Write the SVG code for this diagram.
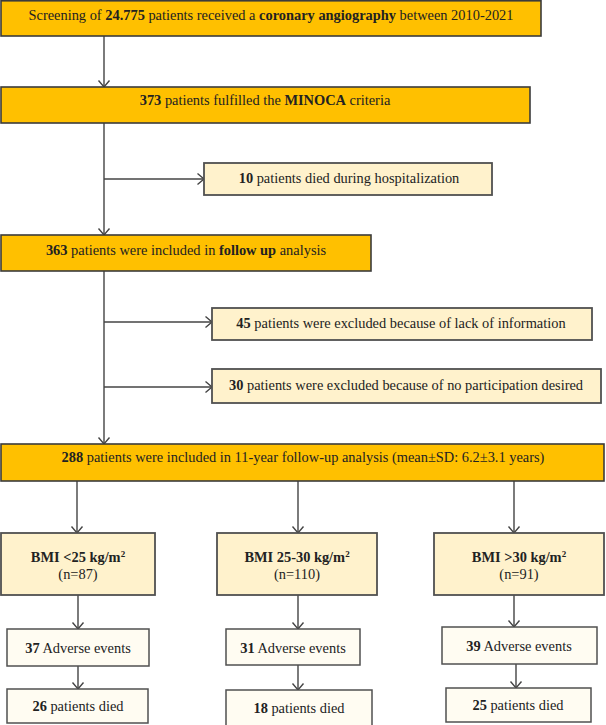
<svg xmlns="http://www.w3.org/2000/svg" width="606" height="725" viewBox="0 0 606 725">
<defs>
<marker id="arr" markerUnits="userSpaceOnUse" markerWidth="10" markerHeight="14" refX="6.5" refY="5.5" orient="auto" overflow="visible">
<path d="M0,0 L6.5,5.5 L0,11" fill="none" stroke="#444" stroke-width="1.4"/>
</marker>
</defs>
<style>
text{font-family:"Liberation Serif","Times New Roman",serif;font-size:14.4px;fill:#222;text-anchor:middle}
.b{font-weight:bold}
.main{fill:#FFC000;stroke:#3b3b3b;stroke-width:1.6}
.cream{fill:#FFF2CC;stroke:#505050;stroke-width:1.8}
.light{fill:#FFFCF2;stroke:#505050;stroke-width:1.5}
.con path{fill:none;stroke:#444;stroke-width:1.4}
</style>
<g class="con" id="connectors">
<path d="M104,36 V87" marker-end="url(#arr)"/>
<path d="M104,123 V235" marker-end="url(#arr)"/>
<path d="M104,179 H204" marker-end="url(#arr)"/>
<path d="M104,271 V444" marker-end="url(#arr)"/>
<path d="M104,322 H212" marker-end="url(#arr)"/>
<path d="M104,387 H212" marker-end="url(#arr)"/>
<path d="M77,481 V533" marker-end="url(#arr)"/>
<path d="M298,481 V533" marker-end="url(#arr)"/>
<path d="M514,481 V533" marker-end="url(#arr)"/>
<path d="M78,595 V629" marker-end="url(#arr)"/>
<path d="M298,595 V629" marker-end="url(#arr)"/>
<path d="M514,595 V627" marker-end="url(#arr)"/>
<path d="M78,666 V689" marker-end="url(#arr)"/>
<path d="M298,665 V690" marker-end="url(#arr)"/>
<path d="M516,664 V688" marker-end="url(#arr)"/>
</g>
<g id="screening">
<rect class="main" x="1" y="0.8" width="540" height="35.2"/>
<text x="271" y="19.5">Screening of <tspan class="b">24.775</tspan> patients received a <tspan class="b">coronary angiography</tspan> between 2010-2021</text>
</g>
<g id="minoca">
<rect class="main" x="1" y="87" width="529" height="36"/>
<text x="265" y="104.5"><tspan class="b">373</tspan> patients fulfilled the <tspan class="b">MINOCA</tspan> criteria</text>
</g>
<g id="died-hosp">
<rect class="cream" x="204" y="163" width="288" height="32"/>
<text x="349" y="183"><tspan class="b">10</tspan> patients died during hospitalization</text>
</g>
<g id="followup">
<rect class="main" x="1" y="235" width="370" height="36"/>
<text x="186" y="254.5"><tspan class="b">363</tspan> patients were included in <tspan class="b">follow up</tspan> analysis</text>
</g>
<g id="excl-info">
<rect class="cream" x="212" y="308" width="380" height="32"/>
<text x="401" y="328"><tspan class="b">45</tspan> patients were excluded because of lack of information</text>
</g>
<g id="excl-part">
<rect class="cream" x="212" y="369" width="389" height="34"/>
<text x="406" y="390"><tspan class="b">30</tspan> patients were excluded because of no participation desired</text>
</g>
<g id="included">
<rect class="main" x="1" y="444" width="603" height="37"/>
<text x="303" y="462"><tspan class="b">288</tspan> patients were included in 11-year follow-up analysis (mean±SD: 6.2±3.1 years)</text>
</g>
<g id="bmi-low">
<rect class="cream" x="1" y="533" width="154" height="62"/>
<text x="78" y="562" class="b">BMI &lt;25 kg/m<tspan font-size="9" dy="-5">2</tspan></text>
<text x="78" y="579">(n=87)</text>
</g>
<g id="bmi-mid">
<rect class="cream" x="217" y="533" width="160" height="62"/>
<text x="297" y="562" class="b">BMI 25-30 kg/m<tspan font-size="9" dy="-5">2</tspan></text>
<text x="297" y="579">(n=110)</text>
</g>
<g id="bmi-high">
<rect class="cream" x="434" y="533" width="170" height="62"/>
<text x="519" y="562" class="b">BMI &gt;30 kg/m<tspan font-size="9" dy="-5">2</tspan></text>
<text x="519" y="579">(n=91)</text>
</g>
<g id="ae-low">
<rect class="light" x="7" y="629" width="142" height="37"/>
<text x="78" y="653"><tspan class="b">37</tspan> Adverse events</text>
</g>
<g id="ae-mid">
<rect class="light" x="226" y="629" width="134" height="36"/>
<text x="293" y="653"><tspan class="b">31</tspan> Adverse events</text>
</g>
<g id="ae-high">
<rect class="light" x="442" y="627" width="155" height="37"/>
<text x="519" y="651"><tspan class="b">39</tspan> Adverse events</text>
</g>
<g id="died-low">
<rect class="light" x="7" y="689" width="141" height="34"/>
<text x="78" y="711"><tspan class="b">26</tspan> patients died</text>
</g>
<g id="died-mid">
<rect class="light" x="226" y="690" width="146" height="36"/>
<text x="299" y="713"><tspan class="b">18</tspan> patients died</text>
</g>
<g id="died-high">
<rect class="light" x="446" y="688" width="145" height="34"/>
<text x="518" y="710"><tspan class="b">25</tspan> patients died</text>
</g>
</svg>
